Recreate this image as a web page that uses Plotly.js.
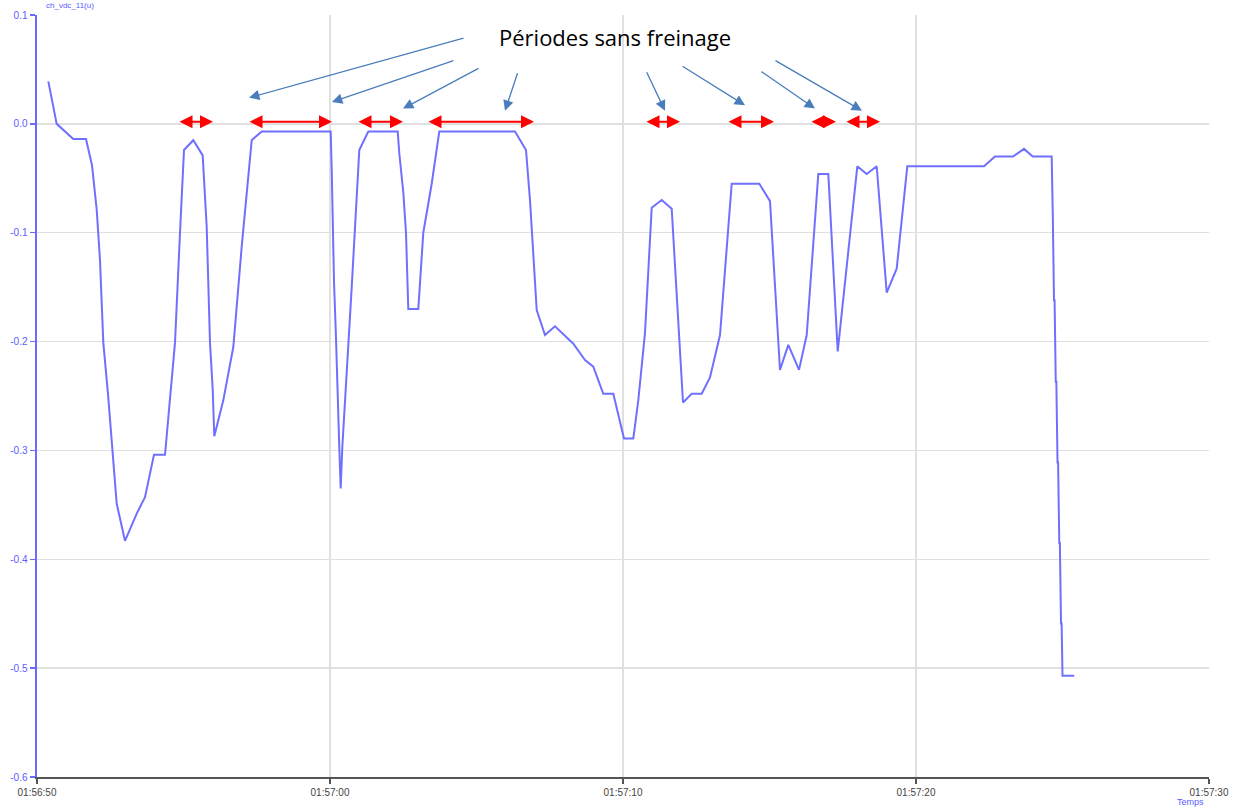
<!DOCTYPE html>
<html>
<head>
<meta charset="utf-8">
<script src="https://cdn.plot.ly/plotly-3.0.1.min.js"></script>
<style>html,body{margin:0;padding:0;background:#fff;}#chart{width:1243px;height:809px;}</style>
</head>
<body>
<div id="chart"></div>
<script>
// Seconds after 01:56:50
const timeOffsetSec = [0.386,0.672,1.239,1.672,1.877,2.038,2.150,2.263,2.423,2.604,2.720,3.003,3.403,3.686,3.993,4.369,4.539,4.710,4.881,5.017,5.334,5.655,5.792,5.904,5.997,6.051,6.358,6.700,6.986,7.328,7.669,10.024,10.058,10.092,10.137,10.205,10.249,10.317,10.365,10.420,10.741,10.853,11.000,11.307,12.311,12.365,12.502,12.594,12.652,12.672,13.014,13.184,13.471,13.730,16.314,16.689,16.826,16.939,17.055,17.338,17.679,18.304,18.703,18.986,19.328,19.669,20.034,20.352,20.522,20.751,20.922,20.980,21.321,21.662,22.048,22.345,22.686,22.969,23.311,23.710,24.652,25.017,25.358,25.642,26.007,26.270,26.666,27.007,27.328,27.997,28.317,28.659,29.000,29.341,29.703,32.321,32.696,33.311,33.686,33.983,34.631,34.650,34.670,34.710,34.730,34.770,34.790,34.830,34.850,34.890,34.910,34.950,34.970,35.000,35.400];
const signalValues = [0.039,0.000,-0.014,-0.014,-0.038,-0.079,-0.125,-0.201,-0.248,-0.309,-0.349,-0.383,-0.358,-0.343,-0.304,-0.304,-0.256,-0.201,-0.100,-0.024,-0.015,-0.029,-0.095,-0.201,-0.244,-0.287,-0.254,-0.205,-0.113,-0.015,-0.007,-0.007,-0.042,-0.093,-0.145,-0.197,-0.247,-0.297,-0.335,-0.297,-0.150,-0.100,-0.024,-0.007,-0.007,-0.027,-0.063,-0.100,-0.145,-0.170,-0.170,-0.100,-0.055,-0.007,-0.007,-0.024,-0.070,-0.116,-0.171,-0.194,-0.186,-0.202,-0.217,-0.223,-0.248,-0.248,-0.289,-0.289,-0.254,-0.192,-0.100,-0.077,-0.070,-0.078,-0.256,-0.248,-0.248,-0.233,-0.194,-0.055,-0.055,-0.071,-0.226,-0.203,-0.226,-0.194,-0.046,-0.046,-0.209,-0.039,-0.046,-0.039,-0.155,-0.133,-0.039,-0.039,-0.030,-0.030,-0.023,-0.030,-0.030,-0.086,-0.086,-0.162,-0.162,-0.237,-0.237,-0.311,-0.311,-0.385,-0.385,-0.459,-0.459,-0.507,-0.507];
// "No braking" periods (seconds after 01:56:50): start / end
const periodStart = [4.812,7.201,10.922,13.311,20.751,23.549,26.382,27.577];
const periodEnd   = [6.007,10.068,12.491,16.962,21.945,25.154,27.270,28.771];
// Blue pointer arrows: tip times (s) and values
const pointerTipSec = [7.235,10.068,12.491,15.973,21.433,24.164,26.553,28.157];
const pointerTipVal = [0.024,0.020,0.014,0.012,0.012,0.017,0.014,0.012];
const yTickVals = [0.1,0.0,-0.1,-0.2,-0.3,-0.4,-0.5,-0.6];
const yTickText = ['0.1','0.0','-0.1','-0.2','-0.3','-0.4','-0.5','-0.6'];
const annotationText = 'Périodes sans freinage';
const yTitleText = 'ch_vdc_11(u)';
const xTitleText = 'Temps';

const base = Date.UTC(2000,0,1,1,56,50);
const toT = s => base + s*1000;
const xs = timeOffsetSec.map(toT);

// pixel offsets of arrow tails relative to tips
const tailDX = [216,123,77,13,-19,-64,-55,-88];
const tailDY = [-60,-42,-41,-39,-40,-40,-38,-51];
const pxPerSec = 1172/40;

const annotations = [];
for (let i=0;i<periodStart.length;i++){
  annotations.push({
    x: toT(periodEnd[i]), y: 0.002, xref:'x', yref:'y',
    ax: -(periodEnd[i]-periodStart[i])*pxPerSec, ay: 0,
    showarrow:true, arrowhead:2, startarrowhead:2, arrowside:'end+start',
    arrowsize:1.3, startarrowsize:1.3, arrowwidth:2, arrowcolor:'#ff0000', text:'', standoff:0, startstandoff:0
  });
}
for (let i=0;i<pointerTipSec.length;i++){
  annotations.push({
    x: toT(pointerTipSec[i]), y: pointerTipVal[i], xref:'x', yref:'y',
    ax: tailDX[i], ay: tailDY[i],
    showarrow:true, arrowhead:2, arrowsize:1.6, arrowwidth:1.3, arrowcolor:'#4a7ebb', text:'', standoff:0
  });
}
annotations.push({text: annotationText, xref:'paper', yref:'paper', x:0.493, y:0.971, xanchor:'center', yanchor:'middle', showarrow:false,
  font:{family:'Open Sans, Liberation Sans, sans-serif', size:22, color:'#000'}});
annotations.push({text: yTitleText, xref:'paper', yref:'paper', x:0.006, y:1.004, xanchor:'left', yanchor:'bottom', showarrow:false,
  font:{family:'Liberation Sans, Arial, sans-serif', size:8, color:'#5b5bff'}});
annotations.push({text: xTitleText, xref:'paper', yref:'paper', x:0.984, y:-0.024, xanchor:'center', yanchor:'top', showarrow:false,
  font:{family:'Liberation Sans, Arial, sans-serif', size:9, color:'#5b5bff'}});

const trace = {x: xs, y: signalValues, type:'scatter', mode:'lines',
  line:{color:'rgb(112,112,255)', width:2}, hoverinfo:'skip'};

const layout = {
  width:1243, height:809,
  margin:{l:37, r:34, t:15, b:32},
  paper_bgcolor:'#fff', plot_bgcolor:'#fff',
  showlegend:false,
  xaxis:{type:'date', range:[toT(0), toT(40)], tickformat:'%H:%M:%S', dtick:10000, tick0:toT(0),
    showgrid:true, gridcolor:'#e0e0e0', gridwidth:1.5, zeroline:false,
    showline:true, linecolor:'#555', linewidth:2, ticks:'outside', ticklen:5, tickcolor:'#555', tickwidth:1.5,
    tickfont:{family:'Liberation Sans, Arial, sans-serif', size:10, color:'#444'}},
  yaxis:{range:[-0.6,0.1], tickvals:yTickVals, ticktext:yTickText,
    showgrid:true, gridcolor:'#e0e0e0', gridwidth:1.5, zeroline:false,
    showline:true, linecolor:'#6a6aff', linewidth:2.5, ticks:'outside', ticklen:5, tickcolor:'#6a6aff', tickwidth:1.5,
    tickfont:{family:'Liberation Sans, Arial, sans-serif', size:10, color:'#5b5bff'}},
  annotations: annotations
};
Plotly.newPlot('chart', [trace], layout, {staticPlot:true, displayModeBar:false});
</script>
</body>
</html>
